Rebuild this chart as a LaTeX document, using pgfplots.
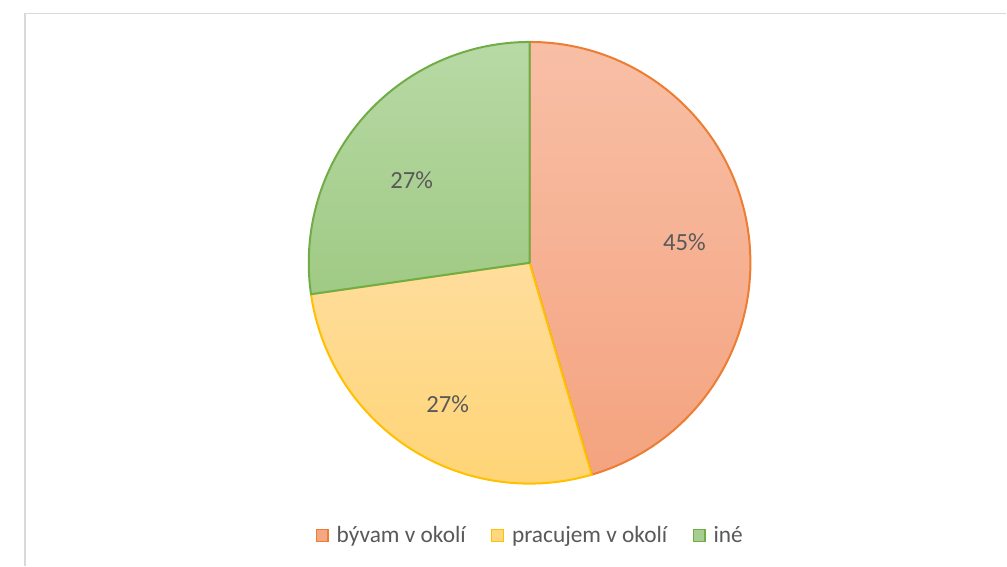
\documentclass[border=0pt]{standalone}
\usepackage{pgfplots}
\usepackage{pgfplotstable}
\pgfplotsset{compat=1.18}
\usepackage{fontspec}
\setmainfont{Carlito}

\definecolor{pie0top}{HTML}{F8BFA6}
\definecolor{pie0bot}{HTML}{F4A37F}
\definecolor{pie0edge}{HTML}{ED7D31}
\definecolor{pie1top}{HTML}{FFDD9C}
\definecolor{pie1bot}{HTML}{FFD474}
\definecolor{pie1edge}{HTML}{FFC000}
\definecolor{pie2top}{HTML}{B8D9A5}
\definecolor{pie2bot}{HTML}{9FCA84}
\definecolor{pie2edge}{HTML}{70AD47}
\definecolor{txtgray}{HTML}{595959}
\definecolor{framegray}{HTML}{D9D9D9}

% share of each answer (percent), lx/ly = where the label sits
\pgfplotstableread[col sep=comma]{
label,value,lx,ly
bývam v okolí,45.45,685,324
pracujem v okolí,27.27,448,161
iné,27.27,412,386
}\piedata

\begin{document}
\begin{tikzpicture}
\begin{axis}[
    width=755.25pt, height=424.5pt,
    scale only axis,
    xmin=0, xmax=1007, ymin=0, ymax=566,
    hide axis,
    clip=false,
    legend columns=-1,
    legend cell align=left,
    legend image code/.code={\draw[#1, line width=1pt] (0pt,-4.4pt) rectangle (8.8pt,4.4pt);},
    legend style={draw=none, fill=none, at={(axis cs:531,30)}, anchor=center,
        font=\fontsize{17.5}{20}\selectfont, text=txtgray,
        /tikz/every even column/.append style={column sep=17pt},
        /tikz/every odd column/.append style={column sep=4pt}},
]
\path[fill=white] (axis cs:0,0) rectangle (axis cs:1007,566);
\draw[framegray, line width=1.2pt] (axis cs:25,0) -- (axis cs:25,552.5) -- (axis cs:1007,552.5);

\addlegendimage{fill=pie0bot!85!pie0top, draw=pie0edge}
\addlegendentry{bývam v okolí}
\addlegendimage{fill=pie1bot!70!pie1top, draw=pie1edge}
\addlegendentry{pracujem v okolí}
\addlegendimage{fill=pie2bot!70!pie2top, draw=pie2edge}
\addlegendentry{iné}

\pgfplotsextra{
  \gdef\total{0}
  \pgfplotstableforeachcolumnelement{value}\of\piedata\as\v{%
    \pgfmathsetmacro\t{\total+\v}\xdef\total{\t}}
  \gdef\curang{90}
  \pgfplotstableforeachcolumnelement{value}\of\piedata\as\v{%
    \pgfmathsetmacro\sweep{360*\v/\total}%
    \pgfmathsetmacro\endang{\curang-\sweep}%
    \pgfmathtruncatemacro\pct{round(100*\v/\total)}%
    \edef\k{\pgfplotstablerow}%
    \pgfplotstablegetelem{\k}{lx}\of\piedata\let\lx\pgfplotsretval
    \pgfplotstablegetelem{\k}{ly}\of\piedata\let\ly\pgfplotsretval
    \path[top color=pie\k top, bottom color=pie\k bot, draw=pie\k edge, line width=1.5pt, line join=round]
      (axis cs:530,303) -- ++(\curang:165.75pt)
      arc[start angle=\curang, end angle=\endang, radius=165.75pt] -- cycle;
    \node[text=txtgray, font=\fontsize{18.5}{21}\selectfont]
      at (axis cs:\lx,\ly) {\pct\%};
    \xdef\curang{\endang}%
  }
}
\end{axis}
\end{tikzpicture}
\end{document}
